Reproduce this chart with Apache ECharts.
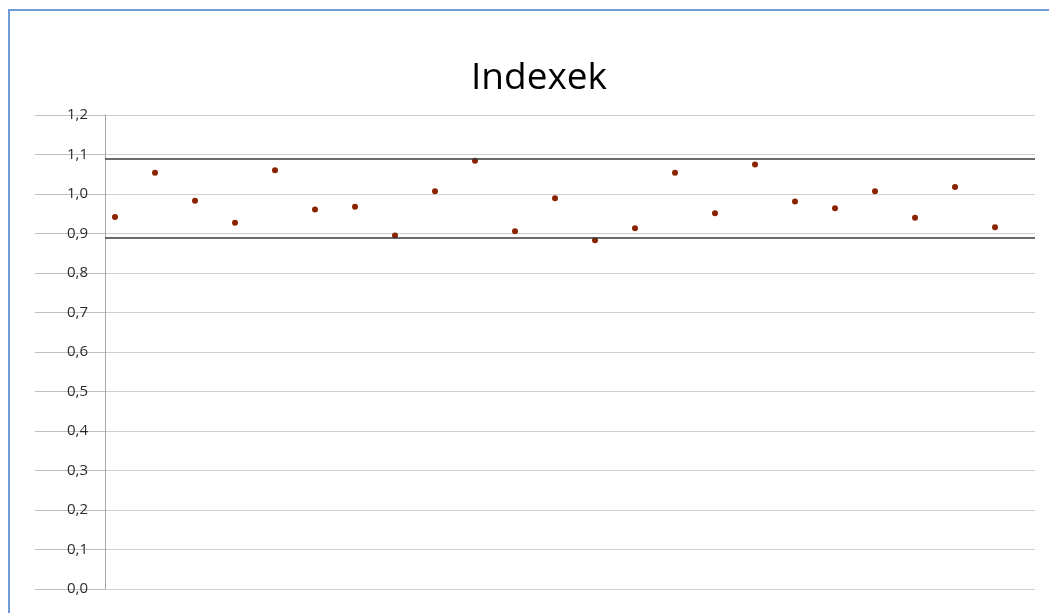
<!DOCTYPE html>
<html>
<head>
<meta charset="utf-8">
<script src="https://cdn.jsdelivr.net/npm/echarts@6/dist/echarts.min.js"></script>
<style>
  html, body { margin: 0; padding: 0; background: #fff; }
  #frame { position: absolute; left: 8px; top: 9px; width: 1100px; height: 700px; border-left: 2px solid #6f9bd6; border-top: 2px solid #6f9bd6; }
  #main { position: absolute; left: 0; top: 0; width: 1049px; height: 613px; }
</style>
</head>
<body>
<div id="frame"></div>
<div id="main"></div>
<script>
// index values, one per point (x = 1..23)
var indexValues = [0.942, 1.054, 0.983, 0.927, 1.060, 0.961, 0.968, 0.895,
  1.007, 1.084, 0.906, 0.989, 0.883, 0.913, 1.054, 0.951,
  1.075, 0.981, 0.964, 1.007, 0.940, 1.018, 0.916]
// control limits (upper / lower)
var limitValues = [1.090, 0.885]
var titleText = 'Indexek'

var points = indexValues.map(function (v, i) { return [i + 1, v] })

var chart = echarts.init(document.getElementById('main'))
chart.setOption({
  animation: false,
  title: {
    text: titleText,
    left: 466,
    top: 55,
    textStyle: { fontFamily: 'Open Sans', fontWeight: 'normal', fontSize: 37, color: '#000' }
  },
  grid: { left: 105, right: 14, top: 115, bottom: 24 },
  xAxis: {
    type: 'value',
    min: 0.75,
    max: 24,
    show: false
  },
  yAxis: {
    type: 'value',
    min: 0,
    max: 1.2,
    interval: 0.1,
    axisLine: { show: true, lineStyle: { color: '#a6a6a6', width: 1 } },
    axisTick: { show: true, length: 70, lineStyle: { color: '#bfbfbf', width: 1 } },
    axisLabel: {
      margin: 17,
      fontFamily: 'Open Sans',
      fontSize: 15,
      color: '#2b2b2b',
      formatter: function (v) { return v.toFixed(1).replace('.', ',') }
    },
    splitLine: { show: true, lineStyle: { color: '#cfcfcf', width: 1 } }
  },
  series: [{
    type: 'scatter',
    data: points,
    symbol: 'circle',
    symbolSize: 6,
    itemStyle: { color: '#8a2400', opacity: 1 },
    markLine: {
      silent: true,
      symbol: 'none',
      label: { show: false },
      lineStyle: { color: '#3a3a3a', width: 1.5, type: 'solid' },
      data: limitValues.map(function (v) { return { yAxis: v } })
    }
  }]
})
</script>
</body>
</html>
